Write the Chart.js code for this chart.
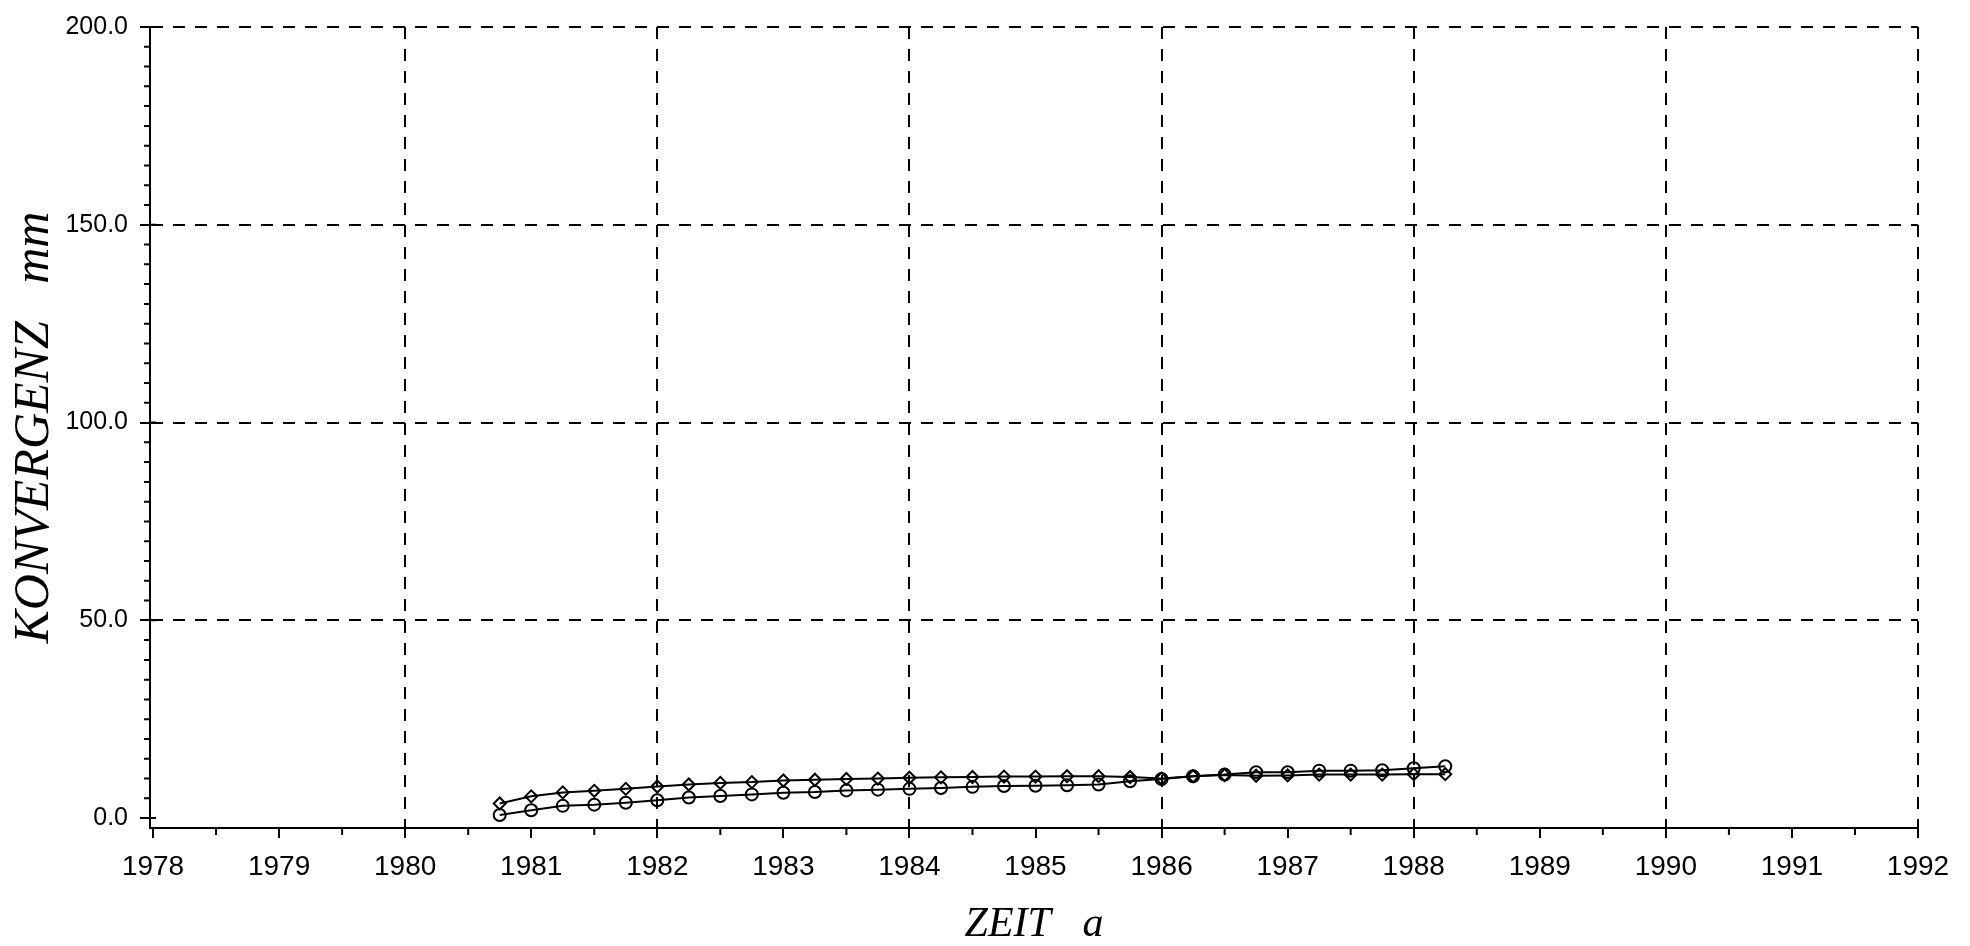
<!DOCTYPE html>
<html lang="de">
<head>
    <meta charset="UTF-8">
    <title>Konvergenz</title>
    <script src="https://cdn.jsdelivr.net/npm/chart.js"></script>
    <style>
        body {
            margin: 0;
            background-color: #ffffff;
        }
        #chart {
            display: block;
        }
    </style>
</head>
<body>

<canvas id="chart" width="1970" height="946"></canvas>

<script>
    // Messzeitpunkte (Jahre, quartalsweise)
    const zeit = [
        1980.75, 1981.0, 1981.25, 1981.5, 1981.75, 1982.0, 1982.25, 1982.5,
        1982.75, 1983.0, 1983.25, 1983.5, 1983.75, 1984.0, 1984.25, 1984.5,
        1984.75, 1985.0, 1985.25, 1985.5, 1985.75, 1986.0, 1986.25, 1986.5,
        1986.75, 1987.0, 1987.25, 1987.5, 1987.75, 1988.0, 1988.25
    ];

    // Konvergenz in mm, Messlinie mit Rauten
    const konvergenzRaute = [
        3.7, 5.5, 6.5, 6.9, 7.4, 8.0, 8.5, 8.9,
        9.1, 9.5, 9.7, 9.9, 10.0, 10.2, 10.3, 10.4,
        10.5, 10.5, 10.6, 10.6, 10.4, 10.0, 10.6, 10.9,
        10.7, 10.8, 11.0, 11.0, 11.0, 11.1, 11.1
    ];

    // Konvergenz in mm, Messlinie mit Kreisen
    const konvergenzKreis = [
        0.8, 2.0, 3.1, 3.4, 3.9, 4.5, 5.2, 5.6,
        6.0, 6.4, 6.6, 7.0, 7.2, 7.4, 7.6, 7.9,
        8.1, 8.2, 8.3, 8.5, 9.3, 9.9, 10.6, 11.0,
        11.6, 11.6, 12.0, 12.0, 12.1, 12.6, 13.1
    ];

    // Achsenbeschriftung
    const jahre = [1978, 1979, 1980, 1981, 1982, 1983, 1984, 1985, 1986, 1987, 1988, 1989, 1990, 1991, 1992];
    const yWerte = [0, 50, 100, 150, 200];

    const toPoints = (xs, ys) => xs.map((x, i) => ({ x: x, y: ys[i] }));

    // kleine Zwischenstriche an beiden Achsen
    const minorTicks = {
        id: 'minorTicks',
        afterDraw(chart) {
            const { ctx, scales: { x, y } } = chart;
            ctx.save();
            ctx.strokeStyle = '#000';
            ctx.lineWidth = 2;
            ctx.beginPath();
            for (let v = 5; v < 200; v += 5) {
                if (v % 50 === 0) continue;
                const py = y.getPixelForValue(v);
                ctx.moveTo(x.left - 6, py);
                ctx.lineTo(x.left, py);
            }
            yWerte.forEach(v => {
                const py = y.getPixelForValue(v);
                ctx.moveTo(x.left, py);
                ctx.lineTo(x.left + 6, py);
            });
            for (let j = 1978.5; j < 1992; j += 1) {
                const px = x.getPixelForValue(j);
                ctx.moveTo(px, y.bottom);
                ctx.lineTo(px, y.bottom + 7);
            }
            ctx.stroke();
            ctx.restore();
        }
    };

    new Chart(document.getElementById('chart'), {
        type: 'line',
        data: {
            datasets: [
                {
                    data: toPoints(zeit, konvergenzRaute),
                    borderColor: '#000',
                    borderWidth: 2,
                    pointStyle: 'rectRot',
                    pointRadius: 6,
                    pointBorderWidth: 2,
                    pointBorderColor: '#000',
                    pointBackgroundColor: 'rgba(0,0,0,0)',
                    tension: 0
                },
                {
                    data: toPoints(zeit, konvergenzKreis),
                    borderColor: '#000',
                    borderWidth: 2,
                    pointStyle: 'circle',
                    pointRadius: 6,
                    pointBorderWidth: 2,
                    pointBorderColor: '#000',
                    pointBackgroundColor: 'rgba(0,0,0,0)',
                    tension: 0
                }
            ]
        },
        options: {
            responsive: false,
            animation: false,
            devicePixelRatio: 1,
            layout: {
                padding: { top: 22, right: 52, bottom: 0, left: 0 }
            },
            plugins: {
                legend: { display: false },
                tooltip: { enabled: false }
            },
            scales: {
                x: {
                    type: 'linear',
                    min: 1977.976,
                    max: 1992,
                    afterBuildTicks: scale => {
                        scale.ticks = jahre.map(v => ({ value: v }));
                    },
                    afterFit: scale => {
                        scale.height = 118;
                    },
                    ticks: {
                        color: '#000',
                        padding: 12,
                        maxRotation: 0,
                        autoSkip: false,
                        font: { family: "'Liberation Sans Narrow', 'Liberation Sans', Arial, sans-serif", size: 28 },
                        callback: value => String(value)
                    },
                    grid: {
                        color: ctx => (ctx.tick && ctx.tick.value % 2 === 0 && ctx.tick.value !== 1978) ? '#000' : 'rgba(0,0,0,0)',
                        lineWidth: 2,
                        tickColor: '#000',
                        tickLength: 10,
                        tickWidth: 2
                    },
                    border: {
                        display: true,
                        color: '#000',
                        width: 2,
                        dash: [12, 10]
                    },
                    title: {
                        display: true,
                        text: 'ZEIT   a',
                        color: '#000',
                        padding: { top: 0, bottom: 0 },
                        font: { family: "'Liberation Serif', 'DejaVu Serif', serif", style: 'italic', size: 42, lineHeight: 1 }
                    }
                },
                y: {
                    type: 'linear',
                    min: -2.5,
                    max: 200,
                    afterBuildTicks: scale => {
                        scale.ticks = yWerte.map(v => ({ value: v }));
                    },
                    afterFit: scale => {
                        scale.width = 150;
                    },
                    ticks: {
                        color: '#000',
                        padding: 12,
                        font: { family: "'Liberation Sans', Arial, sans-serif", size: 25 },
                        callback: value => Number(value).toFixed(1)
                    },
                    grid: {
                        color: ctx => (ctx.tick && ctx.tick.value > 0) ? '#000' : 'rgba(0,0,0,0)',
                        lineWidth: 2,
                        tickColor: '#000',
                        tickLength: 10,
                        tickWidth: 2
                    },
                    border: {
                        display: true,
                        color: '#000',
                        width: 2,
                        dash: [12, 10]
                    },
                    title: {
                        display: true,
                        text: 'KONVERGENZ   mm',
                        color: '#000',
                        padding: { top: 10, bottom: 0 },
                        font: { family: "'Liberation Serif', 'DejaVu Serif', serif", style: 'italic', size: 50, lineHeight: 1 }
                    }
                }
            }
        },
        plugins: [minorTicks]
    });
</script>

</body>
</html>
